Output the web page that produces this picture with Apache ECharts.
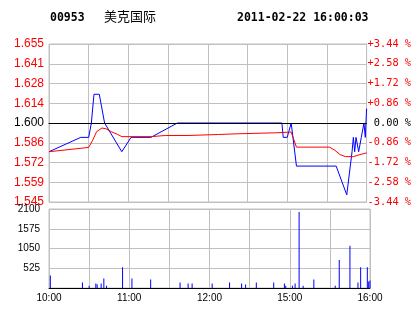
<!DOCTYPE html>
<html><head><meta charset="utf-8">
<script src="https://cdn.jsdelivr.net/npm/echarts@6/dist/echarts.min.js"></script>
<style>html,body{margin:0;padding:0;background:#fff}#c{width:414px;height:314px}</style>
</head><body><div id="c"></div>
<script>
const stockCode = '00953';
const stockName = '美克国际';
const stampText = '2011-02-22 16:00:03';
const prevClose = 1.600;
const priceTickLabels = ['1.545','1.559','1.572','1.586','1.600','1.614','1.628','1.641','1.655'];
const pctTickLabels = ['-3.44 %','-2.58 %','-1.72 %','-0.86 %',' 0.00 %','+0.86 %','+1.72 %','+2.58 %','+3.44 %'];
const volTickLabels = ['','525','1050','1575','2100'];
const timeTickLabels = ['10:00','11:00','12:00','15:00','16:00'];

const priceTimes = ['10:00','10:24','10:30','10:32','10:34','10:38','10:42','10:55','11:02','11:17','11:37','14:56','14:57','15:00','15:03','15:07','15:37','15:45','15:49','15:50','15:51','15:52','15:54','15:56','15:58','15:59','16:00'];
const priceValues = [1.58,1.59,1.59,1.60,1.62,1.62,1.60,1.58,1.59,1.59,1.60,1.60,1.59,1.59,1.60,1.57,1.57,1.55,1.58,1.59,1.58,1.59,1.58,1.59,1.60,1.59,1.61];

const avgTimes = ['10:00','10:30','10:31','10:33','10:36','10:40','10:43','10:47','10:52','10:55','11:17','11:18','11:28','11:45','11:46','12:08','12:09','12:23','12:24','14:52','14:53','15:03','15:04','15:07','15:32','15:36','15:40','15:44','15:50','15:55','16:00'];
const avgValues = [1.5800,1.5830,1.5840,1.5880,1.5940,1.5965,1.5960,1.5940,1.5920,1.5905,1.5905,1.5913,1.5913,1.5913,1.5920,1.5920,1.5925,1.5925,1.5932,1.5932,1.5937,1.5937,1.5937,1.5832,1.5832,1.5810,1.5780,1.5766,1.5766,1.5780,1.5792];

const volTimes = ['10:01','10:25','10:30','10:35','10:36','10:39','10:41','10:43','10:55','11:02','11:16','11:38','11:44','11:47','12:02','12:15','12:24','12:27','14:35','14:48','14:56','14:57','15:02','15:04','15:07','15:10','15:18','15:34','15:37','15:45','15:51','15:53','15:58','15:59','16:00'];
const volValues = [335,145,63,118,100,118,253,63,552,253,226,145,118,118,118,145,118,90,145,145,118,63,63,118,2018,63,226,63,742,1122,145,552,552,172,199];

function minuteIndex(t) {
  const p = t.split(':').map(Number);
  const v = p[0] * 60 + p[1];
  return v <= 750 ? v - 600 : v - 870 + 150;
}
function pct(p) { return (p / prevClose - 1) * 100; }

const pctMax = 3.4375;
const pctStep = pctMax / 4;
function tickIndex(v) { return Math.round((v + pctMax) / pctStep); }
const RED = '#ff0000', GREEN = '#005a00', BLACK = '#000000';
function tickColor(v) {
  const i = tickIndex(v);
  return i < 4 ? GREEN : (i === 4 ? BLACK : RED);
}

const chart = echarts.init(document.getElementById('c'), null, {renderer: 'canvas'});
const gridLine = {show: true, lineStyle: {color: '#c0c0c0', width: 1}};
const option = {
  animation: false,
  backgroundColor: '#fff',
  graphic: [
    {type: 'text', left: 50, top: 12, style: {text: stockCode, font: 'bold 11.5px "DejaVu Sans Mono"', fill: '#000'}},
    {type: 'text', left: 104, top: 10, style: {text: stockName, font: '13px "Noto Sans CJK SC"', fill: '#000'}},
    {type: 'text', left: 237, top: 12, style: {text: stampText, font: 'bold 11.5px "DejaVu Sans Mono"', fill: '#000'}}
  ],
  grid: [
    {left: 49, top: 44, width: 321, height: 158, show: true, borderColor: '#c0c0c0', borderWidth: 1},
    {left: 49, top: 209, width: 321, height: 79, show: true, borderColor: '#c0c0c0', borderWidth: 1}
  ],
  xAxis: [
    {type: 'value', gridIndex: 0, min: 0, max: 240, interval: 30,
     axisLine: {show: true, lineStyle: {color: BLACK, width: 1}}, axisTick: {show: false},
     axisLabel: {show: false}, splitLine: gridLine},
    {type: 'value', gridIndex: 1, min: 0, max: 240, interval: 30,
     axisLine: {show: true, lineStyle: {color: BLACK, width: 1}}, axisTick: {show: false},
     axisLabel: {show: true, showMaxLabel: true, showMinLabel: true, margin: 5,
       fontFamily: 'Liberation Sans', fontSize: 10, color: '#000',
       formatter: v => (v % 60 === 0 ? timeTickLabels[v / 60] : '')},
     splitLine: gridLine}
  ],
  yAxis: [
    {type: 'value', gridIndex: 0, min: -pctMax, max: pctMax, interval: pctStep,
     axisLine: {show: false}, axisTick: {show: false}, splitLine: gridLine,
     axisLabel: {margin: 5, fontFamily: 'Liberation Sans', fontSize: 12,
       formatter: v => priceTickLabels[tickIndex(v)], color: v => tickColor(v)}},
    {type: 'value', gridIndex: 0, position: 'right', min: -pctMax, max: pctMax, interval: pctStep,
     axisLine: {show: true, lineStyle: {color: '#c0c0c0'}}, axisTick: {show: false}, splitLine: {show: false},
     axisLabel: {margin: 1, fontFamily: 'DejaVu Sans Mono', fontSize: 10.3,
       formatter: v => pctTickLabels[tickIndex(v)], color: v => tickColor(v)}},
    {type: 'value', gridIndex: 1, min: 0, max: 2100, interval: 525,
     axisLine: {show: false}, axisTick: {show: false}, splitLine: gridLine,
     axisLabel: {margin: 9, fontFamily: 'Liberation Sans', fontSize: 10, color: '#000',
       formatter: v => volTickLabels[Math.round(v / 525)]}}
  ],
  series: [
    {type: 'line', xAxisIndex: 0, yAxisIndex: 0, z: 3, symbol: 'none',
     lineStyle: {color: '#0000ff', width: 1}, itemStyle: {color: '#0000ff'},
     data: priceTimes.map((t, i) => [minuteIndex(t), pct(priceValues[i])]),
     markLine: {silent: true, symbol: 'none', label: {show: false},
       lineStyle: {color: BLACK, width: 1, type: 'solid'}, data: [{yAxis: 0}]}},
    {type: 'line', xAxisIndex: 0, yAxisIndex: 0, z: 4, symbol: 'none',
     lineStyle: {color: RED, width: 1}, itemStyle: {color: RED},
     data: avgTimes.map((t, i) => [minuteIndex(t), pct(avgValues[i])])},
    {type: 'bar', xAxisIndex: 1, yAxisIndex: 2, barWidth: 1,
     itemStyle: {color: '#0000ff'},
     data: volTimes.map((t, i) => [minuteIndex(t), volValues[i]])}
  ]
};
chart.setOption(option);
</script></body></html>
